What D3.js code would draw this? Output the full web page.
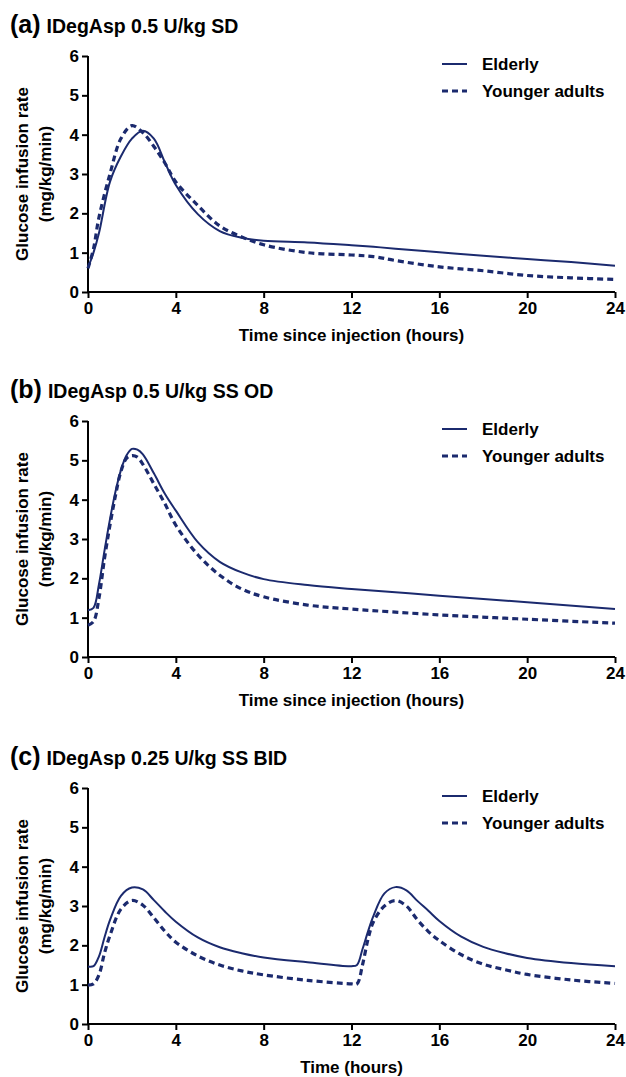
<!DOCTYPE html>
<html>
<head>
<script src="https://d3js.org/d3.v7.min.js"></script>
<style>
body { margin: 0; background: #fff; }
text { font-family: "Liberation Sans", Arial, sans-serif; font-weight: bold; fill: #000; }
</style>
</head>
<body>
<div id="chart"></div>
<script>
// panel (a) single dose
const timeA = [0, 0.25, 0.5, 1, 1.5, 2, 2.5, 3, 3.5, 4, 5, 6, 7, 8, 10, 12, 13, 14, 16, 18, 20, 22, 24];
const elderlyA = [0.62, 1.0, 1.5, 2.8, 3.45, 3.9, 4.1, 3.9, 3.3, 2.72, 1.98, 1.55, 1.38, 1.3, 1.26, 1.19, 1.15, 1.1, 1.01, 0.92, 0.84, 0.76, 0.67];
const youngerA = [0.6, 1.1, 1.9, 3.0, 3.9, 4.23, 4.05, 3.7, 3.28, 2.8, 2.2, 1.68, 1.4, 1.2, 1.0, 0.94, 0.9, 0.8, 0.64, 0.54, 0.42, 0.36, 0.32];

// panel (b) steady state once daily
const timeB = [0, 0.25, 0.5, 0.75, 1, 1.25, 1.5, 1.75, 2, 2.25, 2.5, 3, 3.5, 4, 5, 6, 7, 8, 10, 12, 16, 20, 24];
const elderlyB = [1.19, 1.25, 1.85, 2.7, 3.5, 4.2, 4.75, 5.12, 5.29, 5.27, 5.15, 4.67, 4.15, 3.72, 2.92, 2.42, 2.15, 1.98, 1.83, 1.73, 1.56, 1.39, 1.22];
const youngerB = [0.81, 0.9, 1.5, 2.5, 3.35, 4.1, 4.72, 5.05, 5.12, 5.08, 4.9, 4.4, 3.9, 3.35, 2.6, 2.08, 1.73, 1.53, 1.32, 1.22, 1.07, 0.96, 0.86];

// panel (c) steady state twice daily
const timeC = [0, 0.25, 0.5, 0.75, 1, 1.5, 2, 2.5, 3, 3.5, 4, 5, 6, 7, 8, 10, 12, 12.25, 12.5, 12.75, 13, 13.5, 14, 14.5, 15, 15.5, 16, 17, 18, 19, 20, 22, 24];
const elderlyC = [1.46, 1.47, 1.72, 2.2, 2.64, 3.26, 3.47, 3.42, 3.15, 2.86, 2.6, 2.2, 1.95, 1.8, 1.69, 1.57, 1.47, 1.5, 1.9, 2.35, 2.75, 3.32, 3.48, 3.4, 3.13, 2.88, 2.62, 2.22, 1.96, 1.8, 1.68, 1.55, 1.47];
const youngerC = [0.99, 1.02, 1.25, 1.8, 2.25, 2.92, 3.14, 3.02, 2.7, 2.36, 2.08, 1.73, 1.5, 1.35, 1.25, 1.11, 1.02, 1.02, 1.5, 2.15, 2.6, 3.0, 3.14, 3.0, 2.65, 2.35, 2.12, 1.76, 1.52, 1.38, 1.26, 1.12, 1.03];

const xTicks = [0, 4, 8, 12, 16, 20, 24];
const yTicks = [0, 1, 2, 3, 4, 5, 6];
const seriesNames = ["Elderly", "Younger adults"];

const panels = [
  { tag: "(a)", title: "IDegAsp 0.5 U/kg SD", xTitle: "Time since injection (hours)", top: 56, t: timeA, e: elderlyA, y: youngerA },
  { tag: "(b)", title: "IDegAsp 0.5 U/kg SS OD", xTitle: "Time since injection (hours)", top: 421, t: timeB, e: elderlyB, y: youngerB },
  { tag: "(c)", title: "IDegAsp 0.25 U/kg SS BID", xTitle: "Time (hours)", top: 788, t: timeC, e: elderlyC, y: youngerC }
];

const navy = "#1b2a6e";
const svg = d3.select("#chart").append("svg")
  .attr("width", 626)
  .attr("height", 1077);

const left = 88, right = 615, plotH = 236;
const xScale = d3.scaleLinear().domain([0, 24]).range([left, right]);

panels.forEach(p => {
  const yScale = d3.scaleLinear().domain([0, 6]).range([p.top + plotH, p.top]);
  const g = svg.append("g");

  // title
  const title = g.append("text").attr("x", 10).attr("y", p.top - 23);
  title.append("tspan").style("font-size", "25px").text(p.tag);
  title.append("tspan").attr("dx", 6).style("font-size", "19.5px").text(p.title);

  // axes
  const xAxis = g.append("g")
    .attr("transform", `translate(0,${p.top + plotH})`)
    .call(d3.axisBottom(xScale).tickValues(xTicks).tickSize(6).tickPadding(4).tickFormat(d3.format("d")));
  const yAxis = g.append("g")
    .attr("transform", `translate(${left},0)`)
    .call(d3.axisLeft(yScale).tickValues(yTicks).tickSize(6).tickPadding(3).tickFormat(d3.format("d")));
  [xAxis, yAxis].forEach(a => {
    a.select(".domain").attr("stroke", "#000").attr("stroke-width", 2);
    a.selectAll(".tick line").attr("stroke", "#000").attr("stroke-width", 2);
    a.selectAll(".tick text").style("font-size", "17px").attr("fill", "#000")
      .style("font-family", "'Liberation Sans', Arial, sans-serif").style("font-weight", "bold");
  });
  xAxis.select(".domain").attr("d", `M${left},0H${right}`);
  yAxis.select(".domain").attr("d", `M0,${p.top + plotH}V${p.top}`);

  g.append("text")
    .attr("x", (left + right) / 2)
    .attr("y", p.top + plotH + 49)
    .attr("text-anchor", "middle")
    .style("font-size", "17px")
    .text(p.xTitle);

  const yMid = p.top + plotH / 2;
  const yt = g.append("text")
    .attr("transform", `translate(28,${yMid}) rotate(-90)`)
    .attr("text-anchor", "middle")
    .style("font-size", "17px");
  yt.append("tspan").attr("x", 0).attr("y", 0).text("Glucose infusion rate");
  yt.append("tspan").attr("x", 0).attr("y", 23).text("(mg/kg/min)");

  // lines
  const line = d3.line()
    .x(d => xScale(d[0]))
    .y(d => yScale(d[1]))
    .curve(d3.curveCatmullRom.alpha(0.5));

  g.append("path")
    .datum(p.t.map((t, i) => [t, p.e[i]]))
    .attr("fill", "none")
    .attr("stroke", navy)
    .attr("stroke-width", 2)
    .attr("d", line);
  g.append("path")
    .datum(p.t.map((t, i) => [t, p.y[i]]))
    .attr("fill", "none")
    .attr("stroke", navy)
    .attr("stroke-width", 3.2)
    .attr("stroke-dasharray", "6,4")
    .attr("d", line);

  // legend
  seriesNames.forEach((name, i) => {
    const ly = p.top + 8 + i * 27;
    g.append("line")
      .attr("x1", 442).attr("x2", 467)
      .attr("y1", ly).attr("y2", ly)
      .attr("stroke", navy)
      .attr("stroke-width", i === 0 ? 2 : 3.2)
      .attr("stroke-dasharray", i === 0 ? null : "6,4");
    g.append("text")
      .attr("x", 482).attr("y", ly + 6)
      .style("font-size", "17px")
      .text(name);
  });
});
</script>
</body>
</html>
